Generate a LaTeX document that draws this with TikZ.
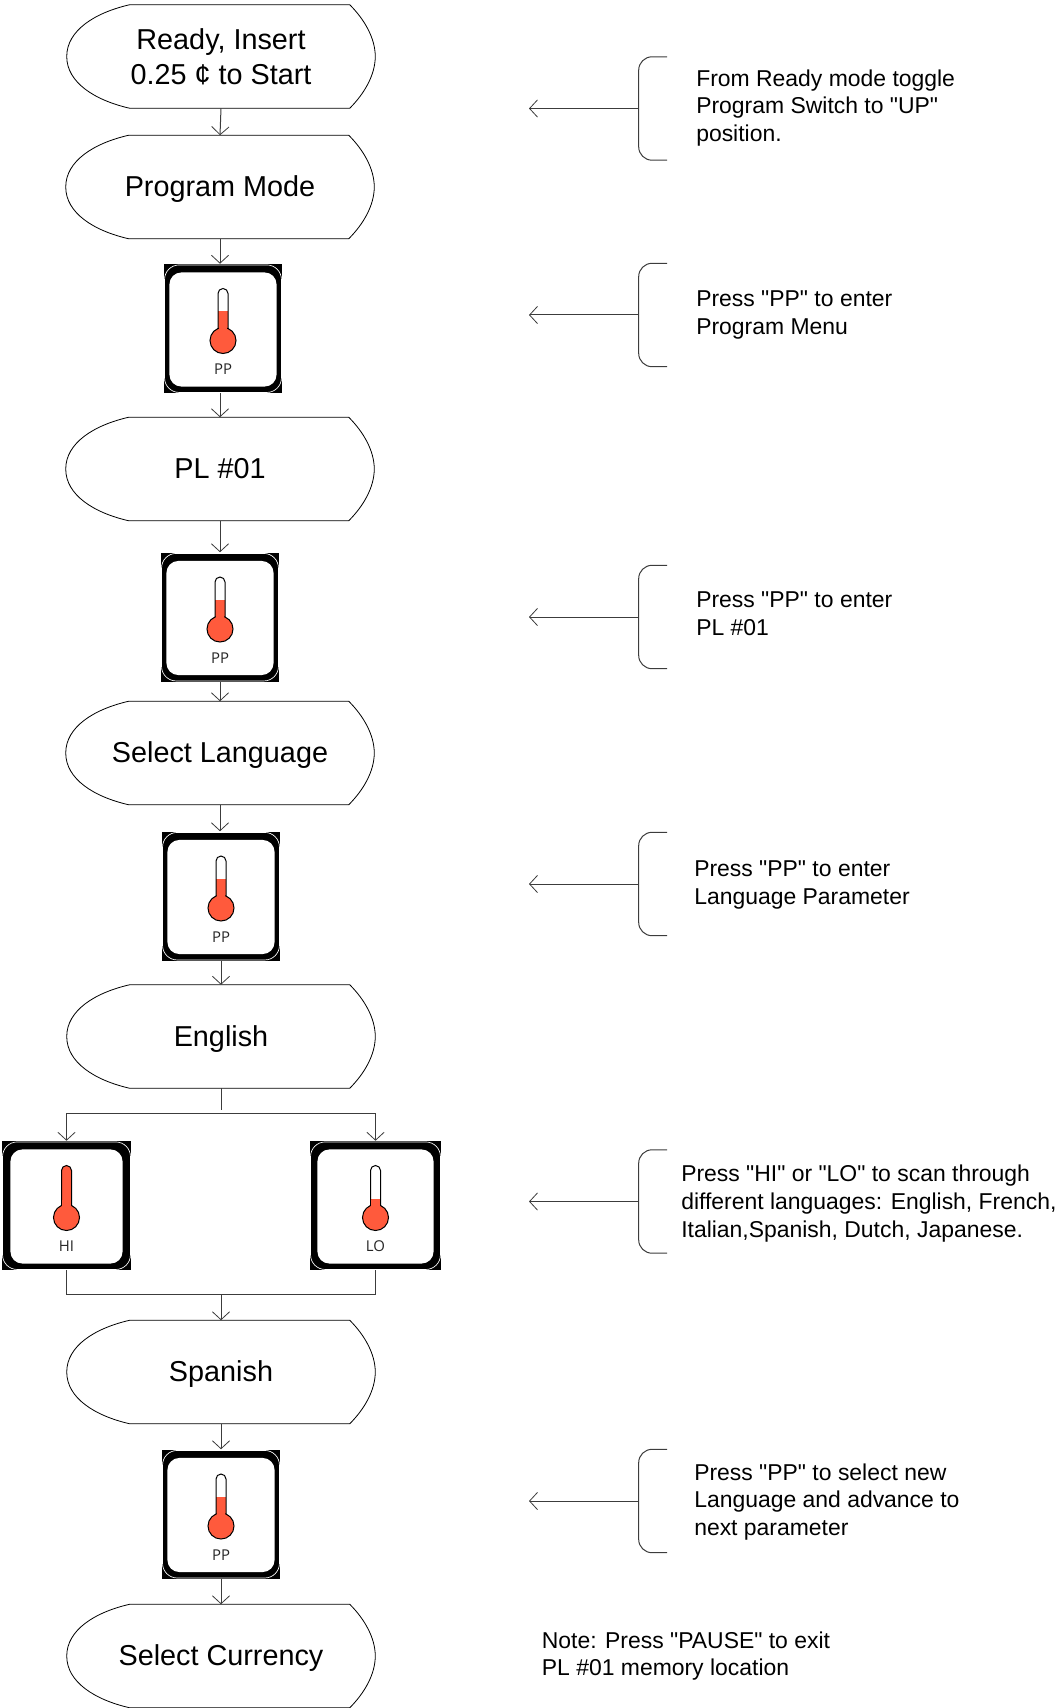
\documentclass[tikz,border=0pt]{standalone}
\usepackage{fontspec}
\setmainfont{Liberation Sans}[Ligatures=TeXOff]
\newfontfamily\keyfont{Open Sans}
\usepackage{xcolor}
\definecolor{thermored}{HTML}{FF5A3C}
\definecolor{linegray}{HTML}{3C3C3C}
\usetikzlibrary{calc, arrows.meta}
\tikzset{
	displaybox/.style={inner sep=0pt, minimum width=231pt, minimum height=77.25pt, align=center,
	font=\fontsize{21.6}{26.2}\selectfont},
	singleline/.style={displaybox, text depth=1pt},
	displayline/.style={draw=black, line width=0.6pt},
	keybox/.style={fill=black, inner sep=0pt, minimum height=96.75pt},
	keytext/.style={inner sep=0pt, text=black!85, font=\keyfont\fontsize{11.2}{12}\selectfont},
	notetext/.style={anchor=west, inner sep=0pt, align=left, font=\fontsize{17.2}{20.8}\selectfont},
	link/.style={draw=linegray, line width=0.75pt},
	arrowlink/.style={link, -{Straight Barb[length=6pt, width=13pt, line width=0.6pt]}},
	bracket/.style={draw=linegray, line width=0.75pt, rounded corners=10pt}
}
\begin{document}
\begin{tikzpicture}[x=0.75pt, y=-0.75pt]
	\useasboundingbox (0, 0) rectangle (1056, 1708);

	% display shapes
	\node[displaybox] (ready) at (221, 56.5) {Ready, Insert\\0.25 ¢ to Start};
	\node[singleline] (program) at (220, 187) {Program Mode};
	\node[singleline] (plone) at (220, 469) {PL \#01};
	\node[singleline] (language) at (220, 753) {Select Language};
	\node[singleline] (english) at (221, 1036.5) {English};
	\node[singleline] (spanish) at (221, 1372) {Spanish};
	\node[singleline] (currency) at (221, 1656) {Select Currency};
	\foreach \n in {ready, program, plone, language, english, spanish, currency} {
		\draw[displayline] ($(\n.north west)+(63, 0)$) -- ($(\n.north west)+(283, 0)$)
			.. controls ($(\n.north west)+(298, 15)$) and ($(\n.east)+(0, -18)$) .. (\n.east)
			.. controls ($(\n.east)+(0, 18)$) and ($(\n.south west)+(298, -15)$) .. ($(\n.south west)+(283, 0)$)
			-- ($(\n.south west)+(63, 0)$)
			.. controls ($(\n.south west)+(28, -8)$) and ($(\n.west)+(0, 26)$) .. (\n.west)
			.. controls ($(\n.west)+(0, -26)$) and ($(\n.north west)+(28, 8)$) .. ($(\n.north west)+(63, 0)$);
	}

	% buttons: name / x / y / width / inset / label / fill level
	\foreach \n/\x/\y/\w/\i/\lab/\lev in {
		keya/223/328.5/118/5.7/PP/-17.5, keyb/220/617/118/5.7/PP/-17.5, keyc/221/896/118/5.7/PP/-17.5,
		keyhi/66.5/1205.5/129/8.7/HI/-40.5, keylo/375.5/1205.5/131/7.7/LO/-6.5, keyd/221/1514/118/5.7/PP/-17.5} {
		\node[keybox, minimum width=\w*0.75pt] (\n) at (\x, \y) {};
		\filldraw[draw=white, fill=black, line width=0.5pt, rounded corners=11pt]
			($(\n.north west)+(0.8, 1.2)$) rectangle ($(\n.south east)+(-0.8, -0.8)$);
		\fill[white, rounded corners=9pt] ($(\n.north west)+(\i, 8.7)$) rectangle ($(\n.south east)+(-\i, -6.7)$);
		\begin{scope}
			\clip (\x-5, \y+5) -- (\x-5, \y-35) arc[start angle=180, end angle=360, radius=5] -- (\x+5, \y+5) -- cycle;
			\fill[thermored] (\x-6, \y+\lev) rectangle (\x+6, \y+5);
		\end{scope}
		\draw[black, line width=0.75pt] (\x-5, \y+5) -- (\x-5, \y-35) arc[start angle=180, end angle=360, radius=5] -- (\x+5, \y+5);
		\filldraw[fill=thermored, draw=black, line width=0.75pt] (\x, \y+12) circle[radius=13];
		\fill[thermored] (\x-4.3, \y-6) rectangle (\x+4.3, \y+4);
		\node[keytext] (\n label) at (\x, \y+41) {\lab};
	}

	% main flow
	\draw[arrowlink] (ready.south) -- (program.north);
	\draw[arrowlink] (program.south) -- (program.south |- keya.north);
	\draw[arrowlink] (plone.north |- keya.south) -- (plone.north);
	\draw[arrowlink] (plone.south) -- (plone.south |- keyb.north);
	\draw[arrowlink] (language.north |- keyb.south) -- (language.north);
	\draw[arrowlink] (language.south) -- (language.south |- keyc.north);
	\draw[arrowlink] (keyc.south) -- (keyc.south |- english.north);

	% split to HI and LO
	\coordinate (stemend) at (221, 1110);
	\coordinate (split) at (221, 1113.7);
	\coordinate (merge) at (221, 1294.7);
	\draw[link] (english.south) -- (stemend);
	\draw[arrowlink] (split) -| (keyhi.north);
	\draw[arrowlink] (split) -| (keylo.north);
	\draw[link] (keyhi.south) |- (merge) -| (keylo.south);
	\draw[arrowlink] (merge) -- (spanish.north);

	\draw[arrowlink] (spanish.south) -- (spanish.south |- keyd.north);
	\draw[arrowlink] (spanish.south |- keyd.south) -- (currency.north);

	% brackets
	\foreach \n/\y in {one/108.5, two/315, three/617, four/884, five/1201.5, six/1501} {
		\coordinate (brace\n) at (638.7, \y);
		\coordinate (tip\n) at (529, \y);
		\draw[bracket] (667, \y-51.7) -- (638.7, \y-51.7) -- (638.7, \y+51.7) -- (667, \y+51.7);
		\draw[arrowlink] (brace\n) -- (tip\n);
	}

	% notes
	\node[notetext] (noteone) at (696, 108) {From Ready mode toggle\\Program Switch to "UP"\\position.};
	\node[notetext] (notetwo) at (696, 315) {Press "PP" to enter\\Program Menu};
	\node[notetext] (notethree) at (696, 613.5) {Press "PP" to enter\\PL \#01};
	\node[notetext] (notefour) at (694, 885) {Press "PP" to enter\\Language Parameter};
	\node[notetext] (notefive) at (681, 1203.5) {Press "HI" or "LO" to scan through\\different languages: English, French,\\Italian,Spanish, Dutch, Japanese.};
	\node[notetext] (notesix) at (694, 1502) {Press "PP" to select new\\Language and advance to\\next parameter};
	\node[notetext] (noteexit) at (541.6, 1656) {Note: Press "PAUSE" to exit\\PL \#01 memory location};

\end{tikzpicture}
\end{document}
